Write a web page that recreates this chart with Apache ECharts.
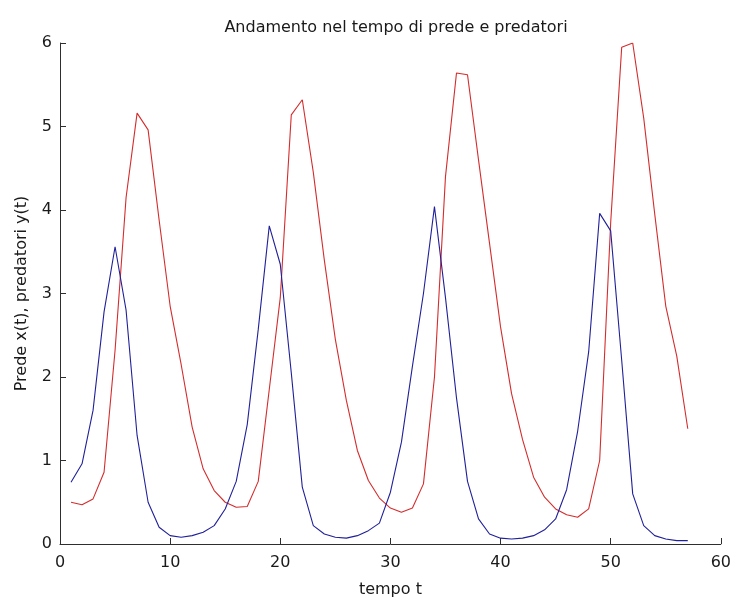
<!DOCTYPE html>
<html>
<head>
<meta charset="utf-8">
<script src="https://cdn.jsdelivr.net/npm/echarts@6/dist/echarts.min.js"></script>
<style>
  html, body { margin: 0; padding: 0; background: #ffffff; }
  #chart { width: 734px; height: 603px; }
</style>
</head>
<body>
<div id="chart"></div>
<script>
// Lotka-Volterra simulation samples: time steps and the two populations
const tempo = [1, 2, 3, 4, 5, 6, 7, 8, 9, 10,
  11, 12, 13, 14, 15, 16, 17, 18, 19, 20,
  21, 22, 23, 24, 25, 26, 27, 28, 29, 30,
  31, 32, 33, 34, 35, 36, 37, 38, 39, 40,
  41, 42, 43, 44, 45, 46, 47, 48, 49, 50,
  51, 52, 53, 54, 55, 56, 57];

// prede x(t)
const prede = [0.74, 0.96, 1.60, 2.78, 3.56, 2.80, 1.30, 0.50, 0.20, 0.10,
  0.08, 0.10, 0.14, 0.22, 0.42, 0.75, 1.43, 2.57, 3.81, 3.35,
  2.05, 0.68, 0.22, 0.12, 0.08, 0.07, 0.10, 0.16, 0.25, 0.62,
  1.22, 2.13, 3.00, 4.04, 2.95, 1.75, 0.75, 0.30, 0.12, 0.07,
  0.06, 0.07, 0.10, 0.17, 0.30, 0.65, 1.35, 2.30, 3.96, 3.75,
  2.20, 0.60, 0.22, 0.10, 0.06, 0.04, 0.04];

// predatori y(t)
const predatori = [0.50, 0.47, 0.54, 0.86, 2.32, 4.15, 5.16, 4.96, 3.88, 2.85,
  2.15, 1.40, 0.90, 0.64, 0.50, 0.44, 0.45, 0.75, 1.85, 2.95,
  5.14, 5.32, 4.45, 3.40, 2.45, 1.72, 1.12, 0.76, 0.55, 0.43,
  0.38, 0.43, 0.72, 2.00, 4.40, 5.64, 5.62, 4.60, 3.60, 2.60,
  1.80, 1.25, 0.80, 0.56, 0.42, 0.35, 0.32, 0.42, 1.00, 3.85,
  5.95, 6.00, 5.10, 3.95, 2.85, 2.25, 1.38];

const pairs = (ys) => tempo.map((t, i) => [t, ys[i]]);

const font = 'DejaVu Sans';
const axisColor = '#2e2e2e';

const chart = echarts.init(document.getElementById('chart'), null, { renderer: 'canvas' });
chart.setOption({
  animation: false,
  backgroundColor: '#ffffff',
  title: {
    text: 'Andamento nel tempo di prede e predatori',
    left: 391,
    top: 15,
    textAlign: 'center',
    textStyle: { fontFamily: font, fontSize: 16, fontWeight: 'normal', color: '#1a1a1a' }
  },
  grid: { left: 60, right: 12, top: 43, bottom: 58, containLabel: false },
  xAxis: {
    type: 'value',
    min: 0, max: 60, interval: 10,
    name: 'tempo t',
    nameLocation: 'middle',
    nameGap: 38,
    nameTextStyle: { fontFamily: font, fontSize: 16, color: '#1a1a1a' },
    axisLine: { show: true, lineStyle: { color: axisColor, width: 1 } },
    axisTick: { show: true, inside: true, length: 6, lineStyle: { color: axisColor } },
    axisLabel: { fontFamily: font, fontSize: 16, color: '#1a1a1a', margin: 11 },
    splitLine: { show: false }
  },
  yAxis: {
    type: 'value',
    min: 0, max: 6, interval: 1,
    name: 'Prede x(t), predatori y(t)',
    nameLocation: 'middle',
    nameGap: 30,
    nameRotate: 90,
    nameTextStyle: { fontFamily: font, fontSize: 16, color: '#1a1a1a' },
    axisLine: { show: true, lineStyle: { color: axisColor, width: 1 } },
    axisTick: { show: true, inside: true, length: 6, lineStyle: { color: axisColor } },
    axisLabel: { fontFamily: font, fontSize: 16, color: '#1a1a1a', margin: 8 },
    splitLine: { show: false }
  },
  series: [
    {
      name: 'prede',
      type: 'line',
      data: pairs(prede),
      showSymbol: false,
      symbol: 'none',
      lineStyle: { color: '#20209a', width: 1.1 },
      z: 3
    },
    {
      name: 'predatori',
      type: 'line',
      data: pairs(predatori),
      showSymbol: false,
      symbol: 'none',
      lineStyle: { color: '#d42c2c', width: 1.1 },
      z: 2
    }
  ]
});
</script>
</body>
</html>
